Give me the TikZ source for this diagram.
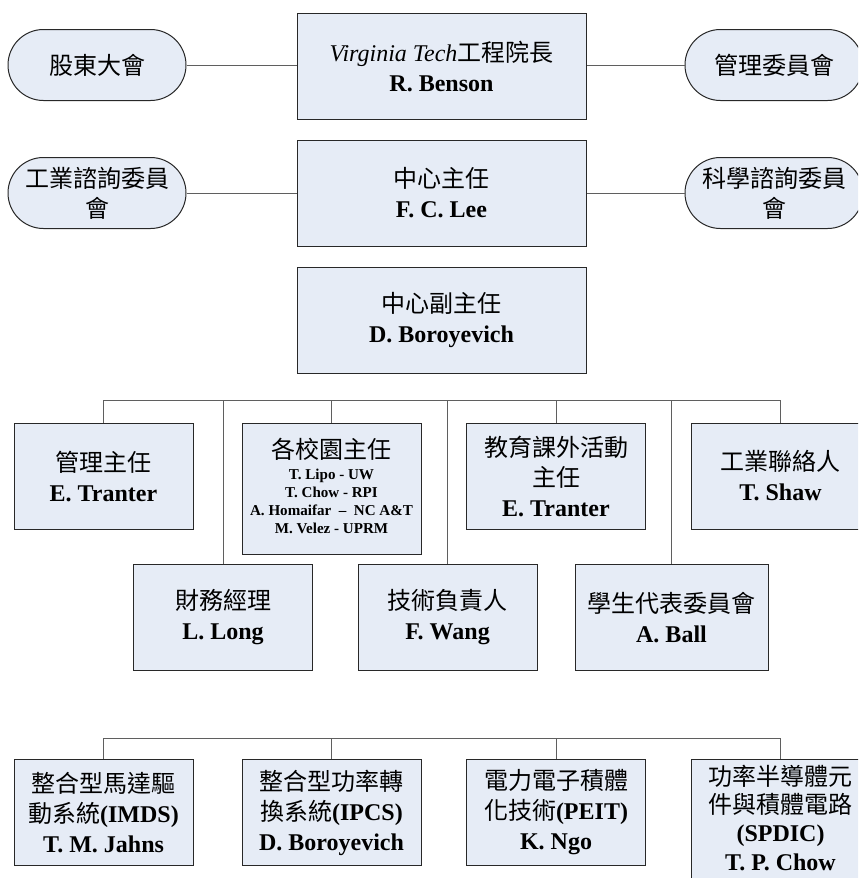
\documentclass[tikz,border=0pt]{standalone}
\usepackage{fontspec}
\setmainfont{Liberation Serif}
\newfontfamily\cjkfont{Noto Sans CJK TC}
\newcommand\zhtxt[1]{{\cjkfont\mdseries #1}}
\definecolor{boxfill}{RGB}{230,236,246}
\definecolor{linegray}{RGB}{95,95,95}
\definecolor{boxline}{RGB}{40,40,40}
\begin{document}
\begin{tikzpicture}[x=0.75pt,y=-0.75pt,
  box/.style={draw=boxline, line width=0.75pt, fill=boxfill,
    minimum width=134.25pt, minimum height=79.5pt, align=center, inner sep=1pt,
    font=\fontsize{18}{22.5}\selectfont\bfseries},
  topbox/.style={box, minimum width=216.75pt},
  pill/.style={box, rounded corners=26.6pt, minimum width=133.5pt, minimum height=53.25pt},
  link/.style={draw=linegray, line width=0.75pt}]
\useasboundingbox (0,0) rectangle (858,878);
\clip (0,0) rectangle (858,878);

% top section
\node[topbox] (vt) at (441.5,66) {{\mdseries\itshape Virginia Tech}\zhtxt{工程院長}\\R. Benson};
\node[topbox] (dir) at (441.5,193) {\zhtxt{中心主任}\\F. C. Lee};
\node[topbox] (dep) at (441.5,320) {\zhtxt{中心副主任}\\D. Boroyevich};

\node[pill] (agm) at (97,65) {\zhtxt{股東大會}};
\node[pill] (mc) at (774,65) {\zhtxt{管理委員會}};
\node[pill] (iab) at (97,193) {\zhtxt{工業諮詢委員}\\\zhtxt{會}};
\node[pill] (sab) at (774,193) {\zhtxt{科學諮詢委員}\\\zhtxt{會}};

\draw[link] (agm.east) -- (agm.east -| vt.west);
\draw[link] (mc.west) -- (mc.west -| vt.east);
\draw[link] (iab.east) -- (dir.west);
\draw[link] (dir.east) -- (sab.west);

% second level
\node[box] (adm) at (103.5,476) {\zhtxt{管理主任}\\E. Tranter};
\node[box, minimum height=98.25pt] (camp) at (331.5,488.5) {\zhtxt{各校園主任}\\[-6.5pt]{\fontsize{11.3}{13.5}\selectfont\begin{tabular}[t]{@{}c@{}}T. Lipo - UW\\T. Chow - RPI\\A. Homaifar \ -- \ NC A\&T\\M. Velez - UPRM\end{tabular}}};
\node[box] (edu) at (556,476) {\zhtxt{教育課外活動}\\\zhtxt{主任}\\E. Tranter};
\node[box] (shaw) at (780.5,476) {\zhtxt{工業聯絡人}\\T. Shaw};

\node[box] (fin) at (223,617.5) {\zhtxt{財務經理}\\L. Long};
\node[box] (tech) at (447.5,617.5) {\zhtxt{技術負責人}\\F. Wang};
\node[box, minimum width=144.75pt] (stu) at (671.5,617.5) {\zhtxt{學生代表委員會}\\A. Ball};

\coordinate (b1L) at (103.5,400);
\coordinate (b1R) at (780.5,400);
\draw[link] (b1L) -- (b1R);
\foreach \n in {adm,fin,camp,tech,edu,stu,shaw}
  \draw[link] (\n.north) -- (\n.north |- b1L);

% bottom level
\node[box] (imds) at (103.5,812.5) {\zhtxt{整合型馬達驅}\\\zhtxt{動系統}(IMDS)\\T. M. Jahns};
\node[box] (ipcs) at (331.5,812.5) {\zhtxt{整合型功率轉}\\\zhtxt{換系統}(IPCS)\\D. Boroyevich};
\node[box] (peit) at (556,812.5) {\zhtxt{電力電子積體}\\\zhtxt{化技術}(PEIT)\\K. Ngo};
\node[box, minimum height=98.25pt, text depth=10.5pt, font=\fontsize{18}{21.2}\selectfont\bfseries] (spdic) at (780.5,824.5) {\zhtxt{功率半導體元}\\\zhtxt{件與積體電路}\\(SPDIC)\\T. P. Chow};

\coordinate (b2L) at (103.5,738);
\coordinate (b2R) at (780.5,738);
\draw[link] (b2L) -- (b2R);
\foreach \n in {imds,ipcs,peit,spdic}
  \draw[link] (\n.north) -- (\n.north |- b2L);
\end{tikzpicture}
\end{document}
